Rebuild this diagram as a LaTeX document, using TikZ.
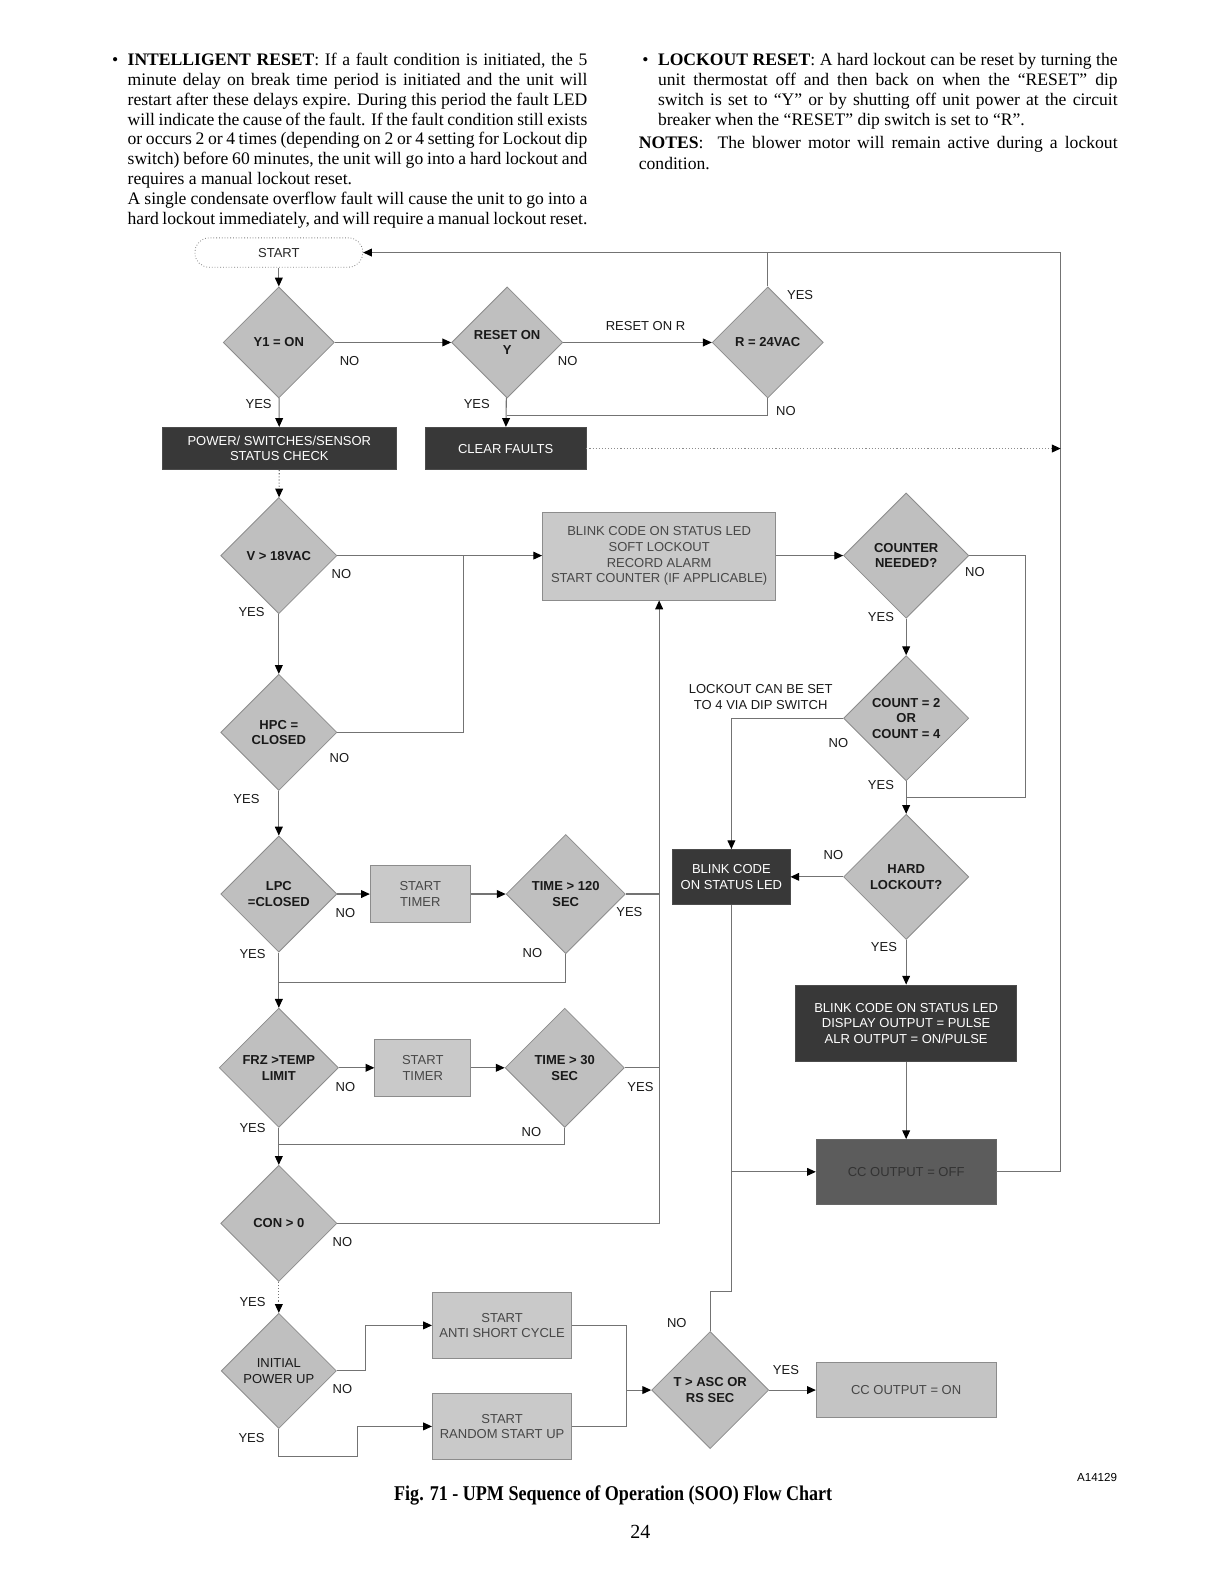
\documentclass[tikz,border=0pt]{standalone}
\usepackage{fontspec}
\setmainfont{Liberation Serif}
\newfontfamily\arial{Liberation Sans}
\usetikzlibrary{arrows.meta,shapes.geometric}
\def\upx{0.50495pt}
\begin{document}
\begin{tikzpicture}[x=0.50495pt,y=-0.50495pt,
  ln/.style={draw=black!55, line width=0.55pt},
  arr/.style={ln, -{Triangle[length=4.4pt,width=3.9pt,color=black]}},
  dotarr/.style={arr, densely dotted},
  dia/.style={shape=diamond, draw=black!45, fill=black!25, inner sep=0pt,
    font=\arial\bfseries\fontsize{6.5}{7.8}\selectfont, align=center, text=black!90,
    minimum width=#1*\upx, minimum height=#1*\upx},
  bx/.style 2 args={rectangle, inner sep=0pt, align=center,
    font=\arial\fontsize{6.5}{7.8}\selectfont,
    minimum width=#1*\upx, minimum height=#2*\upx},
  lbox/.style 2 args={bx={#1}{#2}, draw=black!45, fill=black!21, text=black!72},
  dbox/.style 2 args={bx={#1}{#2}, draw=black!70, fill=black!78, text=white},
  offbox/.style 2 args={bx={#1}{#2}, draw=black!60, fill=black!64, text=black!80},
  lab/.style={font=\arial\fontsize{6.5}{7.8}\selectfont, text=black!90, inner sep=0pt, align=center},
  para/.style={anchor=base west, inner sep=0pt, font=\fontsize{8.8}{10}\selectfont}
]
\useasboundingbox[fill=white] (0,0) rectangle (1212,1568);

% ---------- text above the chart ----------
\node[para, anchor=base] (b1) at (114,64.5) {•};
\node[para] (p1) at (126,64.5) {\makebox[229.75pt][s]{\textbf{INTELLIGENT RESET}: If a fault condition is initiated, the 5}};
\node[para] (p2) at (126,84.25) {\makebox[229.75pt][s]{minute delay on break time period is initiated and the unit will}};
\node[para] (p3) at (126,104) {\makebox[229.75pt][s]{restart after these delays expire. During this period the fault LED}};
\node[para] (p4) at (126,123.75) {\makebox[229.75pt][s]{will indicate the cause of the fault. If the fault condition still exists}};
\node[para] (p5) at (126,143.5) {\makebox[229.75pt][s]{or occurs 2 or 4 times (depending on 2 or 4 setting for Lockout dip}};
\node[para] (p6) at (126,163.25) {\makebox[229.75pt][s]{switch) before 60 minutes, the unit will go into a hard lockout and}};
\node[para] (p7) at (126,183) {requires a manual lockout reset.};
\node[para] (p8) at (126,202.75) {\makebox[229.75pt][s]{A single condensate overflow fault will cause the unit to go into a}};
\node[para] (p9) at (126,222.5) {\makebox[229.75pt][s]{hard lockout immediately, and will require a manual lockout reset.}};

\node[para, anchor=base] (b2) at (639,64.5) {•};
\node[para] (q1) at (651,64.5) {\makebox[229.75pt][s]{\textbf{LOCKOUT RESET}: A hard lockout can be reset by turning the}};
\node[para] (q2) at (651,84.5) {\makebox[229.75pt][s]{unit thermostat off and then back on when the “RESET” dip}};
\node[para] (q3) at (651,104.5) {\makebox[229.75pt][s]{switch is set to “Y” or by shutting off unit power at the circuit}};
\node[para] (q4) at (651,124.5) {breaker when the “RESET” dip switch is set to “R”.};
\node[para] (q5) at (632,147.5) {\makebox[239.3pt][s]{\textbf{NOTES}:\ \ The blower motor will remain active during a lockout}};
\node[para] (q6) at (632,168) {condition.};

% ---------- nodes ----------
\node[rectangle, rounded corners=7pt, draw=black!50, densely dotted, line width=0.4pt,
  minimum width=166*\upx, minimum height=29*\upx, inner sep=0pt,
  font=\arial\fontsize{6.5}{7.8}\selectfont, text=black!85] (start) at (276,250) {START};

\node[dia=110] (y1) at (276,339) {Y1 = ON};
\node[dia=110] (rsty) at (502,339) {RESET ON\\Y};
\node[dia=110] (r24) at (760,339) {R = 24VAC};

\node[dbox={231}{42}] (pwr) at (276.5,444) {POWER/ SWITCHES/SENSOR\\STATUS CHECK};
\node[dbox={159}{42}] (clr) at (500.5,444) {CLEAR FAULTS};

\node[dia=115] (v18) at (276,550) {V > 18VAC};
\node[lbox={231}{87}] (blk1) at (652.5,550.5) {BLINK CODE ON STATUS LED\\SOFT LOCKOUT\\RECORD ALARM\\START COUNTER (IF APPLICABLE)};
\node[dia=124] (cntr) at (897,550) {COUNTER\\NEEDED?};

\node[dia=115] (hpc) at (276,725) {HPC =\\CLOSED};
\node[dia=124] (cnt) at (897,711) {COUNT = 2\\OR\\COUNT = 4};

\node[dia=115] (lpc) at (276,885) {LPC\\=CLOSED};
\node[lbox={99}{56}] (tm1) at (416,885) {START\\TIMER};
\node[dia=118] (t120) at (560,885) {TIME > 120\\SEC};
\node[dbox={116}{54}] (blk2) at (724,868) {BLINK CODE\\ON STATUS LED};
\node[dia=124] (hard) at (897,868) {HARD\\LOCKOUT?};
\node[dbox={219}{76}] (blk3) at (897,1013) {BLINK CODE ON STATUS LED\\DISPLAY OUTPUT = PULSE\\ALR OUTPUT = ON/PULSE};

\node[dia=118] (frz) at (276,1057) {FRZ >TEMP\\LIMIT};
\node[lbox={95}{56}] (tm2) at (418.5,1057) {START\\TIMER};
\node[dia=118] (t30) at (559,1057) {TIME > 30\\SEC};
\node[offbox={178}{64}] (ccoff) at (897,1160) {CC OUTPUT = OFF};

\node[dia=115] (con) at (276,1211) {CON > 0};
\node[dia=114, font=\arial\fontsize{6.5}{7.8}\selectfont] (init) at (276,1357) {INITIAL\\POWER UP};
\node[lbox={138}{66}] (anti) at (497,1312) {START\\ANTI SHORT CYCLE};
\node[lbox={138}{66}] (rand) at (497,1412) {START\\RANDOM START UP};
\node[dia=116] (tasc) at (703,1376) {T > ASC OR\\RS SEC};
\node[lbox={178}{54}, fill=black!23] (ccon) at (897,1376) {CC OUTPUT = ON};

% ---------- junction coordinates ----------
\coordinate (rt) at (1050,250);
\coordinate (j1) at (502,411);
\coordinate (j3) at (459,550);
\coordinate (j4) at (276,973);
\coordinate (j5) at (276,1133);
\coordinate (j6) at (620,1376);
\coordinate (j7) at (897,789);

% ---------- connectors ----------
\draw[arr] (start) -- (y1);
\draw[arr] (y1) -- (rsty);
\draw[arr] (rsty) -- (r24);
\draw[arr] (y1) -- (pwr);
\draw[arr] (rsty) -- (clr);
\draw[ln] (r24.south) |- (j1);
\draw[ln] (r24.north) -- (r24.north |- rt);
\draw[arr] (ccoff.east) -| (rt) -- (start.east);
\draw[ln, densely dotted, draw=black!45, -{Triangle[length=4.4pt,width=3.9pt,color=black]}] (clr.east) -- (clr.east -| rt);

\draw[dotarr] (pwr) -- (v18);
\draw[arr] (v18.east) -- (v18.east -| blk1.west);
\draw[ln] (hpc.east) -| (j3);
\draw[arr] (v18) -- (hpc);
\draw[arr] (hpc) -- (lpc);
\draw[arr] (lpc) -- (tm1);
\draw[arr] (tm1) -- (t120);
\draw[arr] (con.east) -| (blk1.south);
\draw[ln] (t120.east) -- (t120.east -| blk1.south);
\draw[ln] (t30.east) -- (t30.east -| blk1.south);
\draw[ln] (t120.south) |- (j4);
\draw[arr] (lpc) -- (frz);
\draw[arr] (frz) -- (tm2);
\draw[arr] (tm2) -- (t30);
\draw[ln] (t30.south) |- (j5);
\draw[arr] (frz) -- (con);
\draw[dotarr] (con) -- (init);
\draw[arr] (init.east) -- ++(28,0) |- (anti.west);
\draw[arr] (init.south) |- ++(78,27) |- (rand.west);
\draw[ln] (anti.east) -| (j6);
\draw[ln] (rand.east) -| (j6);
\draw[arr] (j6) -- (tasc.west);
\draw[arr] (tasc) -- (ccon);
\draw[ln] (tasc.north) -- ++(0,-39) -| (blk2.south);
\draw[arr] (blk2.south |- ccoff.west) -- (ccoff.west);

\draw[arr] (blk1.east |- cntr.west) -- (cntr.west);
\draw[ln] (cntr.east) -- ++(56,0) |- (j7);
\draw[arr] (cntr) -- (cnt);
\draw[arr] (cnt.west) -| (blk2.north);
\draw[arr] (cnt) -- (hard);
\draw[arr] (hard) -- (blk2);
\draw[arr] (hard) -- (blk3);
\draw[arr] (blk3) -- (ccoff);

% ---------- connector labels ----------
\node[lab] (n1) at (346,357) {NO};
\node[lab] (n2) at (562,357) {NO};
\node[lab] (n3) at (639,323) {RESET ON R};
\node[lab] (n4) at (792,292) {YES};
\node[lab] (n5) at (778,407) {NO};
\node[lab] (n6) at (256,400) {YES};
\node[lab] (n7) at (472,400) {YES};
\node[lab] (n8) at (338,568) {NO};
\node[lab] (n9) at (249,606) {YES};
\node[lab] (n10) at (336,750) {NO};
\node[lab] (n11) at (244,791) {YES};
\node[lab] (n12) at (342,904) {NO};
\node[lab] (n13) at (623,903) {YES};
\node[lab] (n14) at (527,943) {NO};
\node[lab] (n15) at (250,944) {YES};
\node[lab] (n16) at (342,1076) {NO};
\node[lab] (n17) at (634,1076) {YES};
\node[lab] (n18) at (526,1121) {NO};
\node[lab] (n19) at (250,1117) {YES};
\node[lab] (n20) at (339,1229) {NO};
\node[lab] (n21) at (250,1289) {YES};
\node[lab] (n22) at (339,1375) {NO};
\node[lab] (n23) at (249,1423) {YES};
\node[lab] (n24) at (670,1310) {NO};
\node[lab] (n25) at (778,1356) {YES};
\node[lab] (n26) at (965,566) {NO};
\node[lab] (n27) at (872,611) {YES};
\node[lab] (n28) at (830,736) {NO};
\node[lab] (n29) at (753,690) {LOCKOUT CAN BE SET\\TO 4 VIA DIP SWITCH};
\node[lab] (n30) at (872,777) {YES};
\node[lab] (n31) at (825,846) {NO};
\node[lab] (n32) at (875,937) {YES};

% ---------- figure id, caption, page ----------
\node[font=\arial\fontsize{5.8}{7}\selectfont, inner sep=0pt] (fid) at (1086,1463) {A14129};
\node[inner sep=0pt, font=\bfseries\fontsize{10.5}{12}\selectfont] (cap) at (607,1480) {\scalebox{0.86}[1]{Fig. 71 - UPM Sequence of Operation (SOO) Flow Chart}};
\node[inner sep=0pt, font=\fontsize{10}{12}\selectfont] (pg) at (634,1516) {24};
\end{tikzpicture}
\end{document}
